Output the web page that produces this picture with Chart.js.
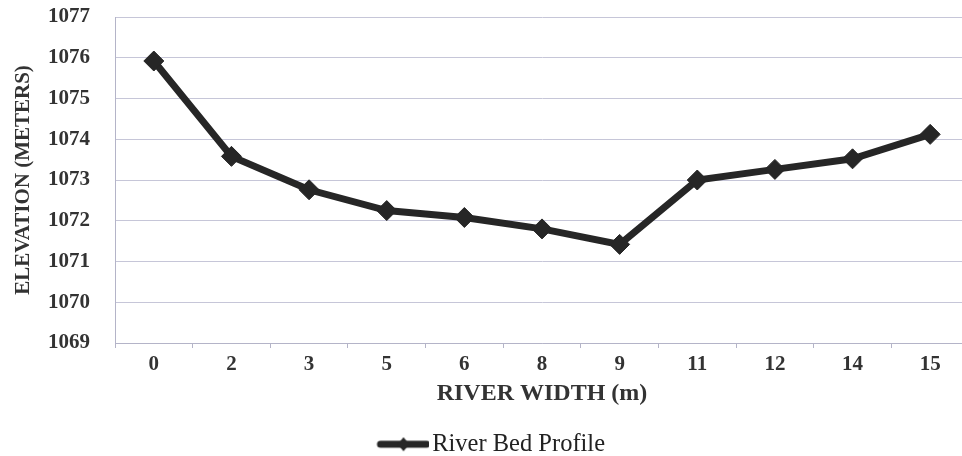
<!DOCTYPE html>
<html>
<head>
<meta charset="utf-8">
<script src="https://cdn.jsdelivr.net/npm/chart.js@4.4.1/dist/chart.umd.min.js"></script>
<style>
  html, body { margin: 0; padding: 0; background: #ffffff; overflow: hidden; }
  #wrap { width: 980px; height: 456px; }
</style>
</head>
<body>
<div id="wrap"><canvas id="chart" width="980" height="456"></canvas></div>
<script>
// River width stations (m) and surveyed bed elevations (m)
const riverWidth = ['0', '2', '3', '5', '6', '8', '9', '11', '12', '14', '15'];
const bedElevation = [1075.92, 1073.58, 1072.76, 1072.25, 1072.08, 1071.80, 1071.42, 1073.00, 1073.26, 1073.52, 1074.12];
const elevationTicks = [1069, 1070, 1071, 1072, 1073, 1074, 1075, 1076, 1077];
const seriesName = 'River Bed Profile';

const lineColor = '#262626';
const gridColor = '#c6c6d8';
const axisColor = '#b4b4c8';
const serif = "'Liberation Serif', 'Times New Roman', serif";

// Legend swatch: a thick line with a diamond in the middle
function legendSwatch() {
  const c = document.createElement('canvas');
  c.width = 72; c.height = 22;
  const g = c.getContext('2d');
  g.fillStyle = lineColor;
  g.strokeStyle = lineColor;
  g.lineWidth = 7;
  g.lineCap = 'round';
  g.beginPath();
  g.moveTo(23, 11); g.lineTo(69, 11);
  g.stroke();
  g.beginPath();
  g.moveTo(46, 4); g.lineTo(52, 11); g.lineTo(46, 18); g.lineTo(40, 11);
  g.closePath();
  g.fill();
  return c;
}
const swatch = legendSwatch();

new Chart(document.getElementById('chart'), {
  type: 'line',
  data: {
    labels: riverWidth,
    datasets: [{
      label: seriesName,
      data: bedElevation,
      borderColor: lineColor,
      backgroundColor: lineColor,
      borderWidth: 7,
      tension: 0,
      pointStyle: 'rectRot',
      pointRadius: 10,
      pointHoverRadius: 10,
      pointBorderWidth: 1,
      pointBorderColor: lineColor,
      pointBackgroundColor: lineColor
    }]
  },
  options: {
    responsive: false,
    animation: false,
    layout: { padding: { top: 17, right: 8, bottom: 0, left: 0 } },
    plugins: {
      tooltip: { enabled: false },
      legend: {
        position: 'bottom',
        maxHeight: 30,
        labels: {
          color: '#222222',
          font: { family: serif, size: 24.5 },
          usePointStyle: true,
          pointStyleWidth: 53,
          padding: 6,
          generateLabels: (chart) => [{
            text: seriesName,
            pointStyle: swatch,
            fillStyle: lineColor,
            strokeStyle: lineColor,
            lineWidth: 0,
            datasetIndex: 0,
            hidden: false,
            fontColor: '#222222'
          }]
        }
      }
    },
    scales: {
      x: {
        type: 'category',
        offset: true,
        afterFit: (s) => { s.height = 83; },
        grid: {
          display: true,
          offset: true,
          drawOnChartArea: false,
          drawTicks: true,
          tickLength: 5,
          color: axisColor
        },
        border: { display: true, color: axisColor, width: 1 },
        ticks: {
          color: '#333333',
          font: { family: serif, size: 21, weight: 'bold' },
          padding: 4,
          maxRotation: 0
        },
        title: {
          display: true,
          text: 'RIVER WIDTH (m)',
          color: '#333333',
          font: { family: serif, size: 24, weight: 'bold' },
          padding: { top: 0, bottom: 18 }
        }
      },
      y: {
        min: 1069,
        max: 1077,
        afterFit: (s) => { s.width = 115; },
        afterBuildTicks: (s) => { s.ticks = elevationTicks.map(v => ({ value: v })); },
        grid: {
          color: gridColor,
          lineWidth: 1,
          drawTicks: true,
          tickLength: 25,
          tickColor: 'rgba(0,0,0,0)'
        },
        border: { display: true, color: axisColor, width: 1 },
        ticks: {
          color: '#333333',
          font: { family: serif, size: 21, weight: 'bold' },
          padding: 0,
          callback: (v) => String(v)
        },
        title: {
          display: true,
          text: 'ELEVATION (METERS)',
          color: '#333333',
          font: { family: serif, size: 21, weight: 'bold' },
          padding: { top: 11, bottom: 0 }
        }
      }
    }
  }
});
</script>
</body>
</html>
